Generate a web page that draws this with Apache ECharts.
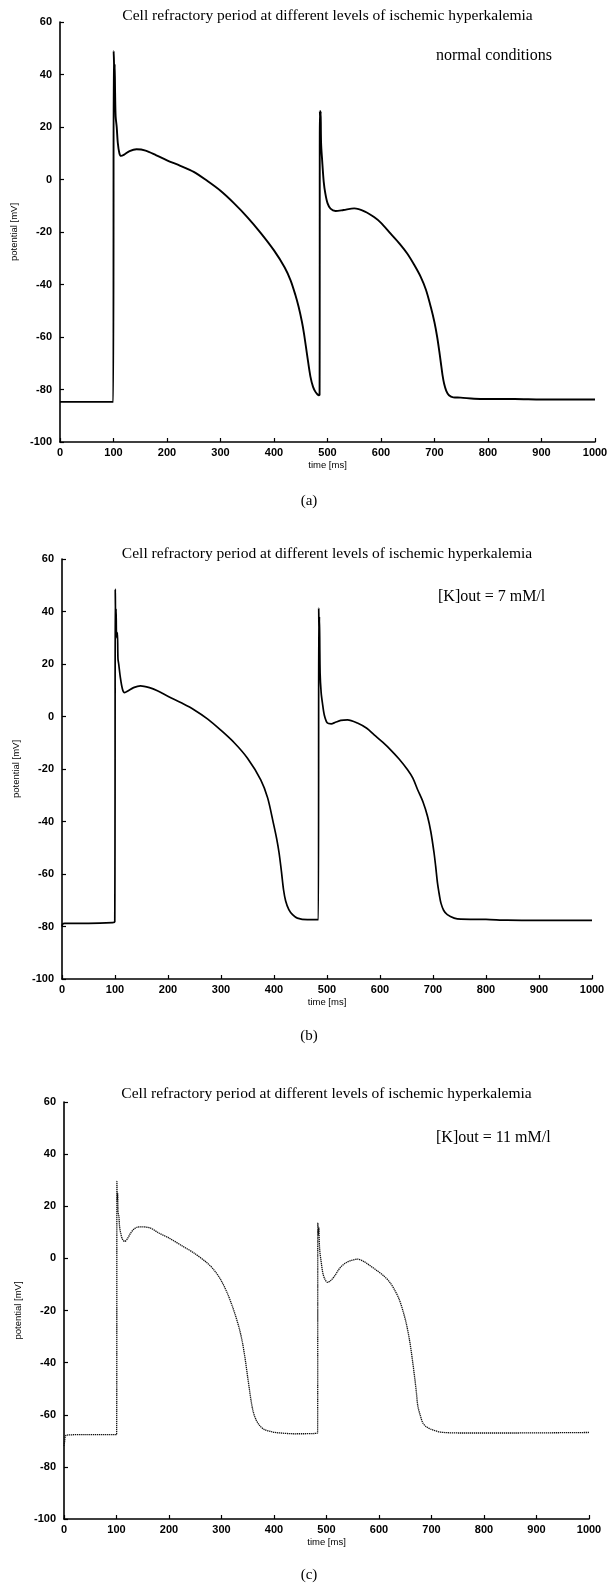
<!DOCTYPE html>
<html><head><meta charset="utf-8">
<script src="https://cdn.jsdelivr.net/npm/echarts@6/dist/echarts.min.js"></script>
<style>html,body{margin:0;padding:0;background:#fff}#c{width:614px;height:1587px}</style>
</head><body><div id="c"></div>
<script>
// ---- data (time in ms, potential in mV) ----
const timeA = [0,99.6,100.3,101,101.6,102.2,103,104,106,108,111,114,120,130,143,160,180,200,225,250,275,300,325,350,375,400,420,431,440,446,452,456,462,468,473,477.5,481,484,485.2,485.7,486.5,487.2,488,490,493,496,500,505.6,515,530,550,570,587,600,618,635,649,662,674,684,693,700,705,709,712,715,718,722,727,735,749,774,800,850,900,1000];
const potA  = [-84.7,-84.7,49,44,30,44,33,24,20,14,10,9,9.5,10.8,11.5,11,9.2,7.3,5.2,2.9,-0.5,-4.3,-9,-14.3,-20.3,-27,-33.5,-38.4,-44,-48.5,-54,-58.6,-67,-75,-79,-80.9,-81.8,-82.2,-82,26,22,26,14,7.3,-1,-5.4,-9,-11.1,-12,-11.6,-11,-12.2,-14.3,-16.5,-20.6,-24.5,-28.2,-32.5,-37,-42,-48.5,-54.5,-60,-65.5,-70,-74.5,-77.8,-80.5,-82.2,-83,-83.1,-83.5,-83.6,-83.6,-83.8,-83.8];

const timeB = [0,1.5,5,50,95,99.6,100.5,101.3,102,103,104.5,105.6,107,110,114,118,125,135,148,165,180,200.6,225,249,275,299,325,350,375,388,398.8,405,409.6,414,418,422,428,435,444,463,483.8,484.4,485,485.7,487,489,491.4,495,500.8,508,516,526,538.6,557.4,575,589,605,620,636,652,662,671,681,689.6,696,702,705,708.5,712,715,720,727,740,752.5,800,840,900,1000];
const potB  = [-80,-79,-78.8,-78.8,-78.5,-78.2,48.5,35,41,30,32,22,20,15,10.5,9.1,9.8,11,11.7,11,9.8,7.6,5.2,2.6,-1,-5.1,-10,-15.9,-24.1,-31,-40.6,-46.5,-52,-59,-66,-70.3,-73.6,-75.5,-76.8,-77.4,-77.4,41.3,30,38,16.5,9,5.1,0.5,-2.5,-2.8,-2.2,-1.5,-1.3,-2.5,-4.5,-7,-9.8,-12.7,-16.2,-20.3,-23.5,-27.9,-32.5,-38,-44,-52,-57,-63.5,-68,-71.1,-73.8,-75.5,-76.8,-77.2,-77.3,-77.6,-77.7,-77.7];

const timeC = [0,1,2.5,5,50,100.2,100.8,101.5,102.2,103,104.6,106,108,111,115.5,120,127,133,140,150,165,180,200,225,248,273,286,298.6,311,320,327,334,340,345,349.6,353,356,360,365.5,372,381,395,406.8,438.6,483,483.5,484.5,485.2,487,490,493,497,502,508,515,521,528,537,547,559.5,572,585,597,610,620,629.5,638,645,652,658,663,667.6,671,674,679,683.5,690,699.5,718.5,760,850,1000];
const potC  = [-72,-70.5,-68.3,-67.8,-67.6,-67.6,29.5,22,25,18,16,12,9.7,7.5,6.5,7.3,9.7,11.2,12,12.1,11.6,9.8,7.8,4.8,2,-1.8,-4.5,-8.2,-13.3,-18,-22.2,-27,-32.4,-38.5,-45.2,-50,-54.2,-58.5,-61.8,-64,-65.6,-66.5,-66.9,-67.3,-67,13.5,9,12,3.3,-1.5,-5.6,-8,-9.2,-8.5,-6.9,-5,-3.1,-1.7,-0.8,-0.3,-1.3,-3.1,-4.8,-6.9,-9,-12,-15.5,-19.7,-25,-31.2,-38,-45.2,-51,-56.7,-60.5,-63.1,-64.6,-65.6,-66.7,-67,-67,-66.8];

const panelTitle = 'Cell refractory period at different levels of ischemic hyperkalemia';
const conditionLabels = ['normal conditions', '[K]out = 7 mM/l', '[K]out = 11 mM/l'];
const panelLetters = ['(a)', '(b)', '(c)'];
const xAxisName = 'time [ms]';
const yAxisName = 'potential [mV]';

// ---- layout ----
const grids = [
  {left: 60, top: 22, width: 535, height: 420},
  {left: 62, top: 559, width: 530, height: 420},
  {left: 64, top: 1102, width: 525, height: 417}
];
const titleY = [16, 554, 1094];
const condPos = [[436, 56], [438, 597], [436, 1138]];
const letterY = [501, 1036, 1575];

const tickFont = {color: '#000', fontSize: 11, fontWeight: 'bold', fontFamily: 'Liberation Sans, Arial, sans-serif'};
const axisLine = {show: true, onZero: false, lineStyle: {color: '#000', width: 1.6}};
const axisTick = {show: true, inside: true, length: 4, lineStyle: {color: '#000', width: 1.2}};

const xAxes = grids.map((g, i) => ({
  type: 'value', gridIndex: i, min: 0, max: 1000, interval: 100,
  name: xAxisName, nameLocation: 'middle', nameGap: 18,
  nameTextStyle: {color: '#000', fontSize: 9.5, fontFamily: 'Liberation Sans, Arial, sans-serif'},
  axisLine, axisTick,
  axisLabel: Object.assign({margin: 5, formatter: v => String(v)}, tickFont),
  splitLine: {show: false}
}));
const yAxes = grids.map((g, i) => ({
  type: 'value', gridIndex: i, min: -100, max: 60, interval: 20,
  name: yAxisName, nameLocation: 'middle', nameGap: 41, nameRotate: 90,
  nameTextStyle: {color: '#000', fontSize: 9.5, fontFamily: 'Liberation Sans, Arial, sans-serif'},
  axisLine, axisTick,
  axisLabel: Object.assign({margin: 8, formatter: v => String(v)}, tickFont),
  splitLine: {show: false}
}));

const seriesData = [[timeA, potA], [timeB, potB], [timeC, potC]];
const lineStyles = [
  {color: '#000', width: 1.9},
  {color: '#000', width: 1.7},
  {color: '#111', width: 1.3, type: [1.3, 0.7]}
];
const series = seriesData.map((d, i) => ({
  type: 'line', xAxisIndex: i, yAxisIndex: i,
  data: d[0].map((t, k) => [t, d[1][k]]),
  symbol: 'none', showSymbol: false,
  smooth: 0.3,
  lineStyle: lineStyles[i],
  silent: true
}));

const serif = '"Liberation Serif", "Times New Roman", serif';
const graphics = [];
grids.forEach((g, i) => {
  const cx = g.left + g.width / 2;
  graphics.push({type: 'text', x: cx, y: titleY[i], style: {text: panelTitle, fill: '#000', font: '15.5px ' + serif, textAlign: 'center', textVerticalAlign: 'middle'}});
  graphics.push({type: 'text', x: condPos[i][0], y: condPos[i][1], style: {text: conditionLabels[i], fill: '#000', font: '16px ' + serif, textAlign: 'left', textVerticalAlign: 'middle'}});
  graphics.push({type: 'text', x: 309, y: letterY[i], style: {text: panelLetters[i], fill: '#000', font: '15px ' + serif, textAlign: 'center', textVerticalAlign: 'middle'}});
});

const chart = echarts.init(document.getElementById('c'), null, {renderer: 'canvas'});
chart.setOption({
  animation: false,
  backgroundColor: '#fff',
  grid: grids,
  xAxis: xAxes,
  yAxis: yAxes,
  series,
  graphic: graphics
});
</script>
</body></html>
